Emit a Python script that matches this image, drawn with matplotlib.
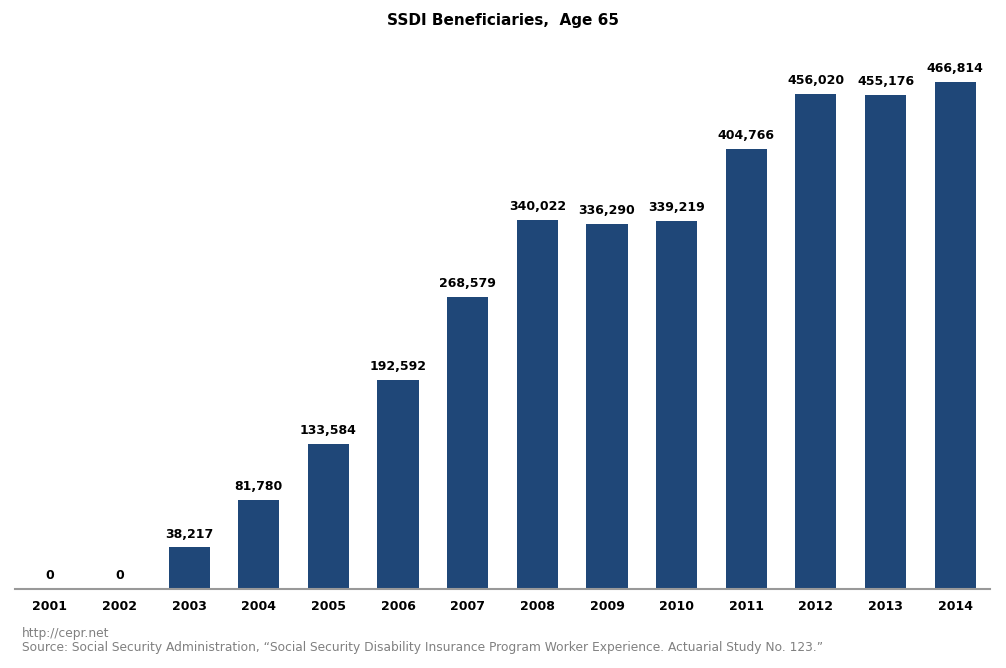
import matplotlib
matplotlib.use("Agg")
import matplotlib.pyplot as plt

years = ["2001", "2002", "2003", "2004", "2005", "2006", "2007",
         "2008", "2009", "2010", "2011", "2012", "2013", "2014"]
beneficiaries = [0, 0, 38217, 81780, 133584, 192592, 268579,
                 340022, 336290, 339219, 404766, 456020, 455176, 466814]

BAR_COLOR = "#1F4778"

fig = plt.figure(figsize=(10.06, 6.68), dpi=100)
ax = fig.add_axes([15 / 1006, 79 / 668, 975 / 1006, 543 / 668])

x = range(len(years))
ax.bar(x, beneficiaries, width=0.59, color=BAR_COLOR, zorder=2)

for xi, v in zip(x, beneficiaries):
    ax.annotate(f"{v:,}", (xi, v), xytext=(0, 5), textcoords="offset points",
                ha="center", va="bottom", fontsize=9, fontweight="bold",
                color="black")

ax.set_xlim(-0.5, len(years) - 0.5)
ax.set_ylim(0, 500000)
ax.set_xticks(list(x))
ax.set_xticklabels(years, fontsize=9, fontweight="bold")
ax.tick_params(axis="x", length=0, pad=8)
ax.set_yticks([])

for side in ["left", "right", "top"]:
    ax.spines[side].set_visible(False)
ax.spines["bottom"].set_color("#999999")
ax.spines["bottom"].set_linewidth(1.5)

fig.text(0.5, 1 - 20 / 668, "SSDI Beneficiaries,  Age 65", ha="center",
         va="center", fontsize=11, fontweight="bold")

fig.text(22 / 1006, 1 - 633 / 668, "http://cepr.net", ha="left", va="center",
         fontsize=8.8, color="#808080")
fig.text(22 / 1006, 1 - 647 / 668,
         "Source: Social Security Administration, \u201cSocial Security Disability "
         "Insurance Program Worker Experience. Actuarial Study No. 123.\u201d",
         ha="left", va="center", fontsize=8.8, color="#808080")

fig.savefig("out.png", dpi=100)
